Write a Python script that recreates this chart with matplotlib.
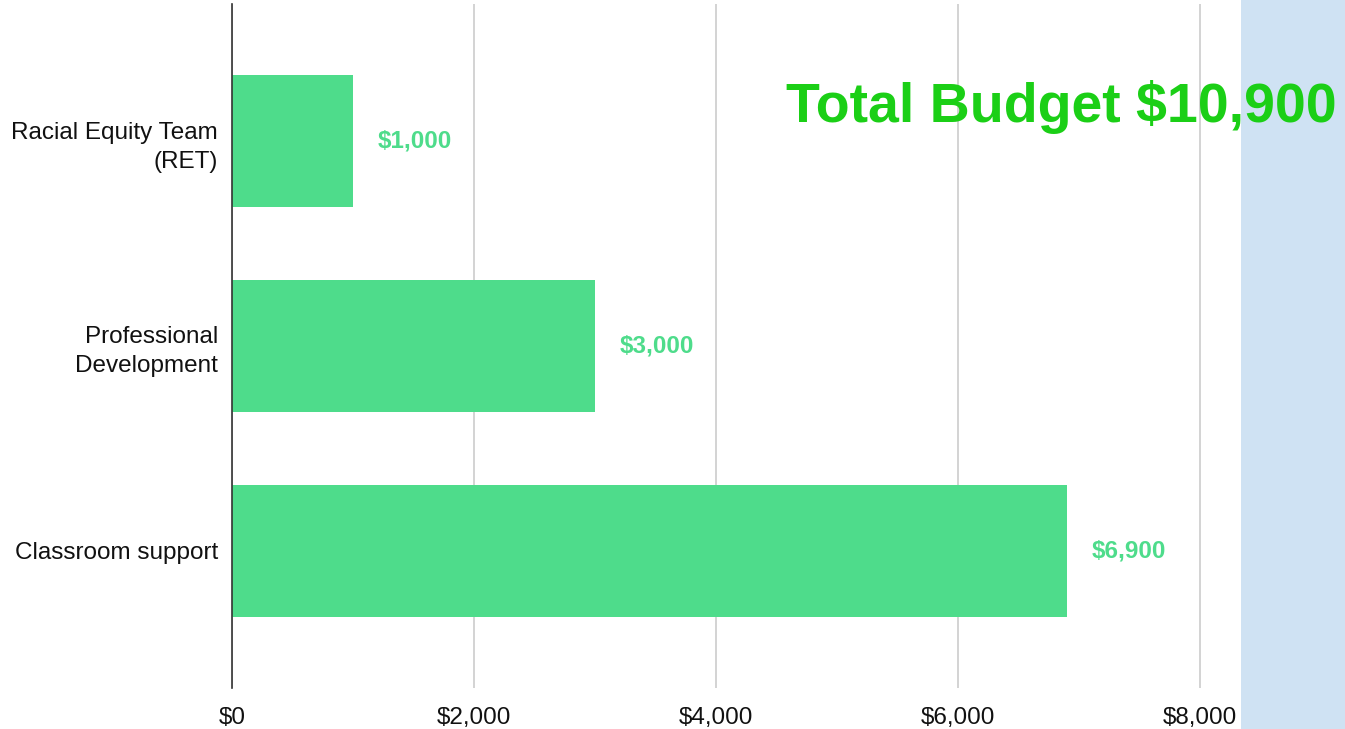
import matplotlib
matplotlib.use("Agg")
import matplotlib.pyplot as plt
from matplotlib.patches import Rectangle

categories = ["Racial Equity Team\n(RET)", "Professional\nDevelopment", "Classroom support"]
values = [1000, 3000, 6900]
value_labels = ["$1,000", "$3,000", "$6,900"]
xticks = [0, 2000, 4000, 6000, 8000]
xtick_labels = ["$0", "$2,000", "$4,000", "$6,000", "$8,000"]
title_text = "Total Budget $10,900"

plt.rcParams['font.family'] = ['Liberation Sans', 'DejaVu Sans']

fig = plt.figure(figsize=(13.45, 7.29), dpi=100)
W, H = 1345, 729
ax = fig.add_axes([232 / W, 1 - 688 / H, (1241 - 232) / W, (688 - 4) / H])

bar_color = "#4edc8b"
ypos = list(range(len(categories)))
ax.barh(ypos, values, height=0.645, color=bar_color, zorder=3)
for y, v, lab in zip(ypos, values, value_labels):
    ax.text(v + 205, y, lab, va="center", ha="left", fontsize=17.5,
            fontweight="bold", color=bar_color, zorder=4)

ax.set_ylim(2.67, -0.67)
ax.set_xlim(0, 8340)
ax.set_yticks(ypos)
ax.set_yticklabels(categories, fontsize=17.5, color="#111111", linespacing=1.4)
ax.set_xticks(xticks)
ax.set_xticklabels(xtick_labels, fontsize=17.5, color="#111111")
ax.tick_params(axis="both", length=0)
ax.tick_params(axis="x", pad=14)
ax.tick_params(axis="y", pad=10)
for s in ["top", "right", "bottom"]:
    ax.spines[s].set_visible(False)
ax.spines["left"].set_color("#333333")
ax.spines["left"].set_linewidth(1.2)
ax.spines["left"].set_zorder(5)
ax.grid(axis="x", color="#cccccc", linewidth=1.2, zorder=0)
ax.set_axisbelow(True)

fig.patches.append(Rectangle((1241 / W, 0), 1 - 1241 / W, 1, transform=fig.transFigure,
                             facecolor="#cfe2f3", edgecolor="none", zorder=0))

fig.text(1337 / W, 1 - 122 / H, title_text, ha="right", va="baseline", fontsize=40,
         fontweight="bold", color="#1bcf16", zorder=10)

fig.savefig("out.png", dpi=100)
